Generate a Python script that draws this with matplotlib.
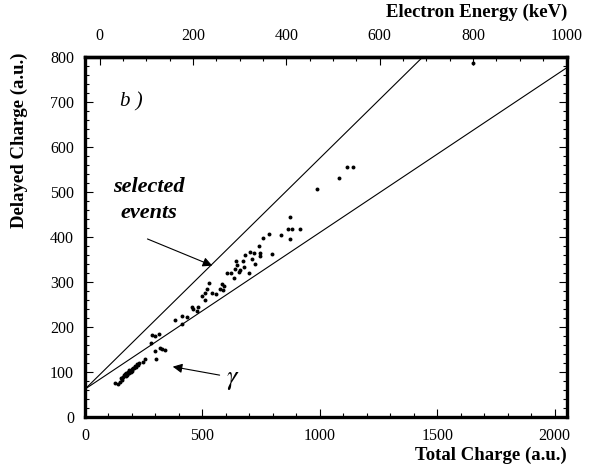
import numpy as np
import matplotlib
matplotlib.use("Agg")
import matplotlib.pyplot as plt
from matplotlib.ticker import MultipleLocator

plt.rcParams['font.family'] = ['Liberation Serif', 'DejaVu Serif']
plt.rcParams['mathtext.fontset'] = 'stix'

# Data: total charge (a.u.) vs delayed charge (a.u.)
total_charge = [
    128, 142, 149, 153, 156, 159, 163, 167, 170, 173, 174, 177, 181, 184, 187,
    189, 191, 196, 199, 201, 206, 210, 213, 217, 220, 224, 231, 245, 257,
    281, 285, 298, 313, 298, 320, 329, 342, 302,
    383, 413, 434, 413, 454, 461, 478, 482,
    498, 511, 512, 520, 530, 539, 557, 576, 582, 586, 593,
    603, 623, 634, 638, 645, 648, 657, 660, 674, 677, 682, 697, 703, 711,
    721, 722, 742, 745, 746, 759, 784, 796,
    835, 865, 872, 872, 882, 916, 988, 1080, 1116, 1140, 1653,
]
delayed_charge = [
    75, 73, 78, 87, 82, 86, 90, 93, 96, 91, 97, 93, 98, 101, 97,
    104, 103, 100, 106, 103, 108, 110, 113, 112, 118, 116, 119, 123, 130,
    165, 182, 180, 184, 147, 154, 151, 150, 128,
    216, 225, 222, 206, 245, 239, 236, 244,
    270, 260, 276, 284, 297, 276, 273, 284, 296, 282, 291,
    319, 319, 310, 330, 346, 338, 322, 327, 347, 334, 361, 321, 367, 351,
    364, 340, 381, 358, 365, 397, 407, 362,
    405, 417, 445, 396, 417, 418, 507, 531, 556, 556, 787,
]

# Selection lines: delayed = offset + slope * total
line_offset = 62
upper_slope = 0.513
lower_slope = 0.348

# Energy calibration for top axis: total = pedestal + gain * energy
pedestal = 62
gain = 1.988

x_max = 2053
y_max = 800

fig = plt.figure(figsize=(6.0, 4.67), dpi=100)
ax = fig.add_axes([0.1417, 0.107, 0.8033, 0.771])

ax.scatter(total_charge, delayed_charge, s=8, color='black', linewidths=0, zorder=3)

xs = np.array([0, x_max])
ax.plot(xs, line_offset + upper_slope * xs, color='black', lw=0.8)
ax.plot(xs, line_offset + lower_slope * xs, color='black', lw=0.8)

ax.set_xlim(0, x_max)
ax.set_ylim(0, y_max)

ax.xaxis.set_major_locator(MultipleLocator(500))
ax.xaxis.set_minor_locator(MultipleLocator(100))
ax.yaxis.set_major_locator(MultipleLocator(100))
ax.yaxis.set_minor_locator(MultipleLocator(20))
ax.tick_params(which='both', direction='in', right=True, top=False, labelsize=11.5, width=0.8)
ax.tick_params(which='major', length=6)
ax.tick_params(which='minor', length=3)
ax.tick_params(axis='x', pad=8)
ax.tick_params(axis='y', pad=8)
for sp in ax.spines.values():
    sp.set_linewidth(2.4)

sec = ax.secondary_xaxis('top', functions=(lambda q: (q - pedestal) / gain,
                                            lambda e: pedestal + gain * e))
sec.set_xticks([0, 200, 400, 600, 800, 1000])
sec.xaxis.set_minor_locator(MultipleLocator(50))
sec.tick_params(which='both', direction='in', labelsize=11.5, width=0.8, pad=9)
sec.tick_params(which='major', length=6)
sec.tick_params(which='minor', length=3)
sec.spines['top'].set_linewidth(2.4)

ax.set_xlabel('Total Charge (a.u.)', fontsize=13.5, fontweight='bold', ha='right', va='center')
ax.xaxis.set_label_coords(1.0, -0.106)
ax.set_ylabel('Delayed Charge (a.u.)', fontsize=13.5, fontweight='bold', ha='right', va='center')
ax.yaxis.set_label_coords(-0.137, 1.012)
sec.set_xlabel('Electron Energy (keV)', fontsize=13.5, fontweight='bold', loc='right', labelpad=8)

ax.text(150, 700, 'b )', fontsize=15, style='italic', va='center')
ax.text(272, 511, 'selected', fontsize=16, style='italic', fontweight='bold', ha='center', va='center')
ax.text(272, 453, 'events', fontsize=16, style='italic', fontweight='bold', ha='center', va='center')
ax.annotate('', xy=(553, 334), xytext=(255, 398),
            arrowprops=dict(arrowstyle='-|>', color='black', lw=0.8, mutation_scale=14))
ax.annotate('', xy=(362, 113), xytext=(585, 92),
            arrowprops=dict(arrowstyle='-|>', color='black', lw=0.8, mutation_scale=14))
ax.text(630, 80, r'$\gamma$', fontsize=19, ha='center', va='center')

fig.savefig('out.png', dpi=100)
